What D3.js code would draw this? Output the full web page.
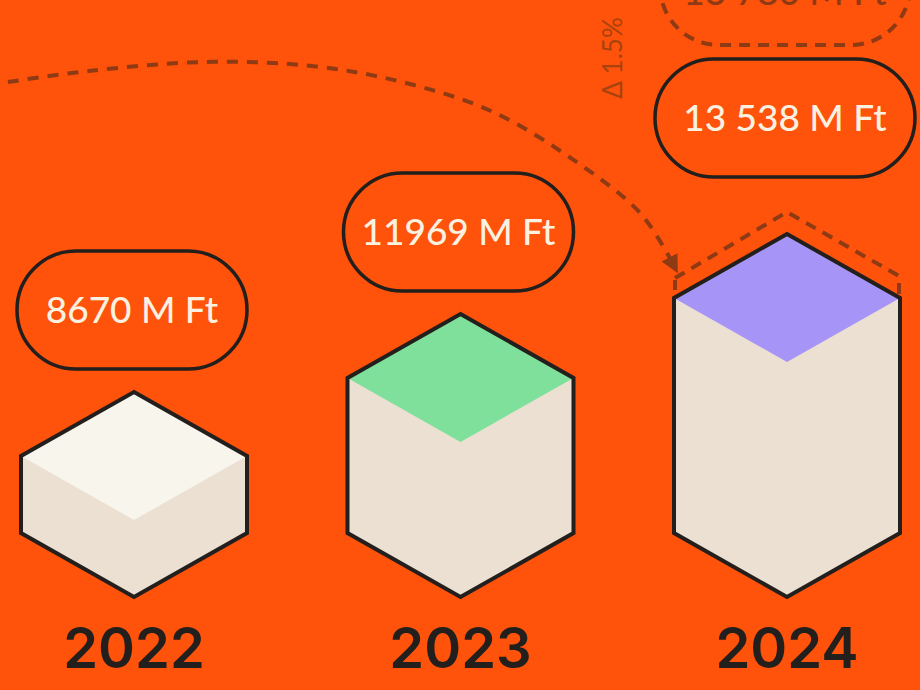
<!DOCTYPE html>
<html>
<head>
<meta charset="utf-8">
<script src="https://cdn.jsdelivr.net/npm/d3@7"></script>
<style>
  html, body { margin: 0; padding: 0; background: #FF520A; }
  svg { display: block; }
</style>
</head>
<body>
<svg id="chart" width="920" height="690"></svg>
<script>
// ---- data ----
const years = ["2022", "2023", "2024"];
const values = [8670, 11969, 13538];
const valueLabels = ["8670 M Ft", "11969 M Ft", "13 538 M Ft"];
const topColors = ["#F7F5EC", "#7FE09B", "#A694F6"];
const forecastValue = 13780;
const forecastLabel = "13 780 M Ft";
const forecastChange = "Δ 1.5%";

// ---- setup ----
const W = 920, H = 690;
const svg = d3.select("#chart");
svg.append("rect").attr("width", W).attr("height", H).attr("fill", "#FF520A");

const x = d3.scalePoint().domain(years).range([134, 787]);
const h = d3.scaleLinear().domain([...values, forecastValue]).range([77, 155, 235, 257]);

const bottomY = 597, hw = 113, dh = 64;
const DARK = "#231F1C", SIDE = "#ECE0D3", BROWN = "#8E3A14";

function geom(i, v) {
  const cx = x(years[i]);
  const top = bottomY - 2 * dh - h(v);
  return { cx, top, corner: top + dh, inner: top + 2 * dh, lower: bottomY - dh };
}

const P = pts => pts.map(p => p.join(",")).join(" ");
const cubes = svg.append("g");
years.forEach((yr, i) => {
  const g = geom(i, values[i]);
  const c = cubes.append("g");
  const hex = [[g.cx, g.top], [g.cx + hw, g.corner], [g.cx + hw, g.lower], [g.cx, bottomY], [g.cx - hw, g.lower], [g.cx - hw, g.corner]];
  c.append("polygon").attr("points", P(hex)).attr("fill", SIDE);
  c.append("polygon").attr("points", P([[g.cx, g.top], [g.cx + hw, g.corner], [g.cx, g.inner], [g.cx - hw, g.corner]])).attr("fill", topColors[i]);
  c.append("polygon").attr("points", P(hex))
    .attr("fill", "none").attr("stroke", DARK).attr("stroke-width", 4).attr("stroke-linejoin", "miter");

  // year label
  svg.append("text").attr("x", g.cx).attr("y", 668).attr("text-anchor", "middle")
    .attr("font-family", "Inter, 'Liberation Sans', sans-serif").attr("font-weight", 600)
    .attr("font-size", 56).attr("fill", DARK).text(yr);
});

// ---- forecast ghost outline above last cube ----
const last = years.length - 1;
const gl = geom(last, values[last]);
const gf = geom(last, forecastValue);
const ghost = d3.path();
ghost.moveTo(gf.cx - hw + 1, gf.corner + 2);
ghost.lineTo(gf.cx, gf.top);
ghost.lineTo(gf.cx + hw - 1, gf.corner);
ghost.lineTo(gf.cx + hw - 1, gl.corner);
svg.append("path").attr("d", ghost.toString()).attr("fill", "none").attr("stroke", BROWN)
  .attr("stroke-width", 4).attr("stroke-dasharray", "11,8");
svg.append("line").attr("x1", gf.cx - hw + 1).attr("x2", gf.cx - hw + 1)
  .attr("y1", gf.corner + 4).attr("y2", gl.corner)
  .attr("stroke", BROWN).attr("stroke-width", 4).attr("stroke-dasharray", "10,8");

// ---- big dashed arc ----
const arcPts = [[8, 82], [89, 71], [205, 62], [312, 66], [402, 82], [491, 111], [578, 163], [641, 214], [672, 262]];
svg.append("defs").append("marker").attr("id", "arrow").attr("viewBox", "0 0 10 10")
  .attr("refX", 3).attr("refY", 5).attr("markerWidth", 4.5).attr("markerHeight", 4.5)
  .attr("orient", "auto").attr("markerUnits", "strokeWidth")
  .append("path").attr("d", "M0,0 L10,5 L0,10 z").attr("fill", BROWN);
svg.append("path").attr("d", d3.line().curve(d3.curveCatmullRom)(arcPts))
  .attr("fill", "none").attr("stroke", BROWN).attr("stroke-width", 4)
  .attr("stroke-dasharray", "11,9").attr("marker-end", "url(#arrow)");

// ---- value pills ----
function pill(cx, cy, w, hgt, dashed) {
  const g = svg.append("g");
  g.append("rect").attr("x", cx - w / 2).attr("y", cy - hgt / 2).attr("width", w).attr("height", hgt)
    .attr("rx", hgt / 2).attr("ry", hgt / 2)
    .attr("fill", "none").attr("stroke", dashed ? BROWN : DARK).attr("stroke-width", dashed ? 4 : 3.5)
    .attr("stroke-dasharray", dashed ? "11,8" : null);
  return g;
}
const pillH = 118;
years.forEach((yr, i) => {
  const g = geom(i, values[i]);
  const w = i === last ? 260 : 230;
  const bottom = i === last ? gf.top - 35 : g.top - 23;
  const cy = bottom - pillH / 2;
  const cx = g.cx - 2;
  const p = pill(cx, cy, w, pillH, false);
  p.append("text").attr("x", cx).attr("y", cy + 13).attr("text-anchor", "middle")
    .attr("font-family", "Lato, 'Noto Sans', sans-serif").attr("font-size", 37)
    .attr("font-weight", 500).attr("fill", "#FBF1E1").text(valueLabels[i]);
});

// forecast pill (cropped at top, as in the source)
const fp = pill(785, -14, 250, pillH, true);
fp.append("text").attr("x", 785).attr("y", 5).attr("text-anchor", "middle")
  .attr("font-family", "Lato, 'Noto Sans', sans-serif").attr("font-size", 37)
  .attr("font-weight", 500).attr("fill", BROWN).text(forecastLabel);

// change label
svg.append("text").attr("transform", "translate(622,58) rotate(-90)")
  .attr("text-anchor", "middle").attr("font-family", "Lato, 'Noto Sans', sans-serif")
  .attr("font-size", 26).attr("fill", "#A8420F").text(forecastChange);
</script>
</body>
</html>
